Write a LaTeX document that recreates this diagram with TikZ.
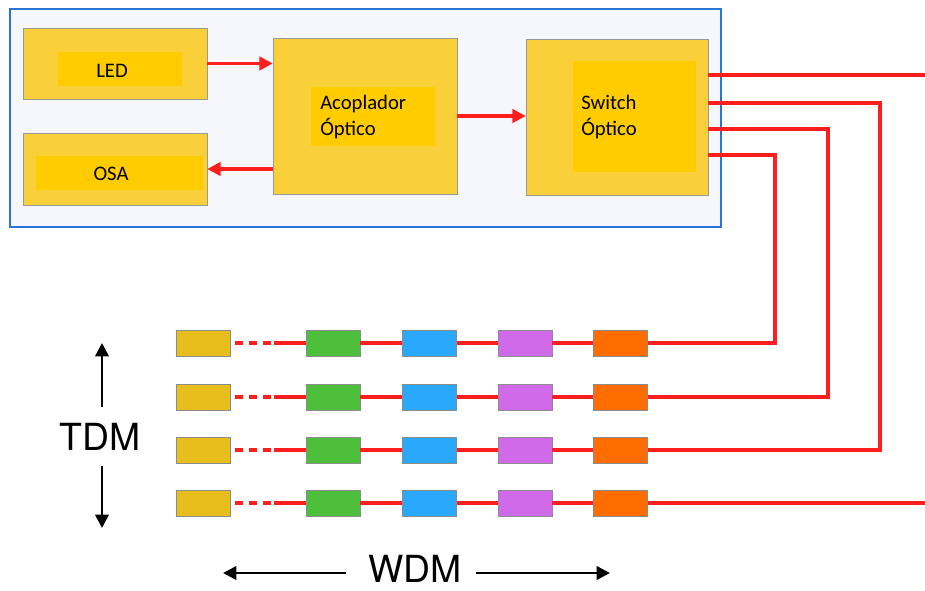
\documentclass[tikz,border=0pt]{standalone}
\usepackage{fontspec}
\setmainfont{Carlito}
\newfontfamily\helv{TeX Gyre Heros}
\usetikzlibrary{arrows.meta,fit,shadows}

\definecolor{rojofibra}{HTML}{FF1E1E}
\definecolor{azulmarco}{HTML}{2A75D3}
\definecolor{fondoconsola}{HTML}{F5F7FC}
\definecolor{amarillobloque}{HTML}{F9D03A}
\definecolor{amarillonucleo}{HTML}{FFCC00}
\definecolor{amarillo}{HTML}{E8BE1C}
\definecolor{verde}{HTML}{4EBF3A}
\definecolor{azul}{HTML}{2AA8FB}
\definecolor{violeta}{HTML}{D06AE8}
\definecolor{naranja}{HTML}{FF6D00}

\tikzset{
  consola/.style={draw=azulmarco, fill=fondoconsola, line width=1.5pt, inner sep=0pt},
  bloque/.style={draw=black!40, fill=amarillobloque, inner sep=0pt,
    drop shadow={shadow xshift=0.8pt, shadow yshift=-0.8pt, opacity=0.25}},
  nucleo/.style={fill=amarillonucleo, inner sep=0pt},
  texto/.style={font=\fontsize{15.5}{19}\selectfont, align=left, inner sep=0pt},
  fibra/.style={draw=rojofibra, line width=2.5pt},
  flecha/.style={fibra, -{Triangle[length=10pt,width=10pt]}},
  celda/.style={draw=black!45, minimum width=40.5pt, minimum height=19.5pt, inner sep=0pt,
    drop shadow={shadow xshift=0.6pt, shadow yshift=-0.6pt, opacity=0.25}},
  ejetexto/.style={font=\helv\fontsize{28}{30}\selectfont, inner sep=0pt},
  eje/.style={line width=2pt, -{Triangle[length=10pt,width=10pt]}}
}

\begin{document}
\begin{tikzpicture}[x=0.75pt, y=-0.75pt]
    \useasboundingbox (0,0) rectangle (925,590);

    % consola de medida
    \node[consola, fit={(10,9) (721,227)}] (consola) {};

    \node[bloque, fit={(23,28) (207,99)}] (led) {};
    \node[nucleo, fit={(58,52) (182,86)}] (lednucleo) {};
    \node[texto] (ledtexto) at (112,71) {LED};

    \node[bloque, fit={(23,133) (207,205)}] (osa) {};
    \node[nucleo, fit={(36,156) (203,190)}] (osanucleo) {};
    \node[texto] (osatexto) at (111,174) {OSA};

    \node[bloque, fit={(273,38) (457,194)}] (acoplador) {};
    \node[nucleo, fit={(311,87) (435,146)}] (acopladornucleo) {};
    \node[texto, anchor=west] (acopladortexto) at (320,117) {Acoplador\\Óptico};

    \node[bloque, fit={(526,39) (708,195)}] (switch) {};
    \node[nucleo, fit={(573,61) (696,172)}] (switchnucleo) {};
    \node[texto, anchor=west] (switchtexto) at (581,117) {Switch\\Óptico};

    \draw[flecha] (led.east) -- (acoplador.west |- led.east);
    \draw[flecha] (acoplador.west |- osa.east) -- (osa.east);
    \draw[flecha] (acoplador.east) -- (switch.west |- acoplador.east);

    % salidas del switch
    \coordinate (s1) at (708,75);
    \coordinate (s2) at (708,103);
    \coordinate (s3) at (708,129);
    \coordinate (s4) at (708,155);
    \coordinate (bordea) at (925,75);
    \coordinate (bordeb) at (925,503);

    % filas de sensores
    \foreach \f/\y in {1/343, 2/397, 3/450, 4/503} {
        \node[celda, fill=amarillo] (am\f) at (203,\y) {};
        \node[celda, fill=verde] (ve\f) at (333,\y) {};
        \node[celda, fill=azul] (az\f) at (429.5,\y) {};
        \node[celda, fill=violeta] (vi\f) at (525,\y) {};
        \node[celda, fill=naranja] (na\f) at (620.5,\y) {};
        \draw[fibra, dash pattern=on 6pt off 4.5pt] (am\f.east) ++(5,0) -- ++(38,0);
        \draw[fibra] (ve\f.west) -- ++(-32,0);
        \draw[fibra] (ve\f) -- (az\f);
        \draw[fibra] (az\f) -- (vi\f);
        \draw[fibra] (vi\f) -- (na\f);
    }

    \draw[fibra] (s1) -- (bordea);
    \draw[fibra] (s2) -- ++(172,0) |- (na3.east);
    \draw[fibra] (s3) -- ++(120,0) |- (na2.east);
    \draw[fibra] (s4) -- ++(67,0) |- (na1.east);
    \draw[fibra] (na4.east) -- (bordeb);

    % ejes TDM / WDM
    \node[ejetexto] (tdm) at (100,437) {TDM};
    \coordinate (tdmarriba) at (102,343);
    \coordinate (tdmabajo) at (102,528);
    \draw[eje] (tdm.north -| tdmarriba) ++(0,-16) -- (tdmarriba);
    \draw[eje] (tdm.south -| tdmabajo) ++(0,15) -- (tdmabajo);

    \node[ejetexto] (wdm) at (415,569) {WDM};
    \coordinate (wdmizq) at (223,573);
    \coordinate (wdmder) at (610,573);
    \draw[eje] (wdm.west |- wdmizq) ++(-22,0) -- (wdmizq);
    \draw[eje] (wdm.east |- wdmder) ++(14,0) -- (wdmder);
\end{tikzpicture}
\end{document}
